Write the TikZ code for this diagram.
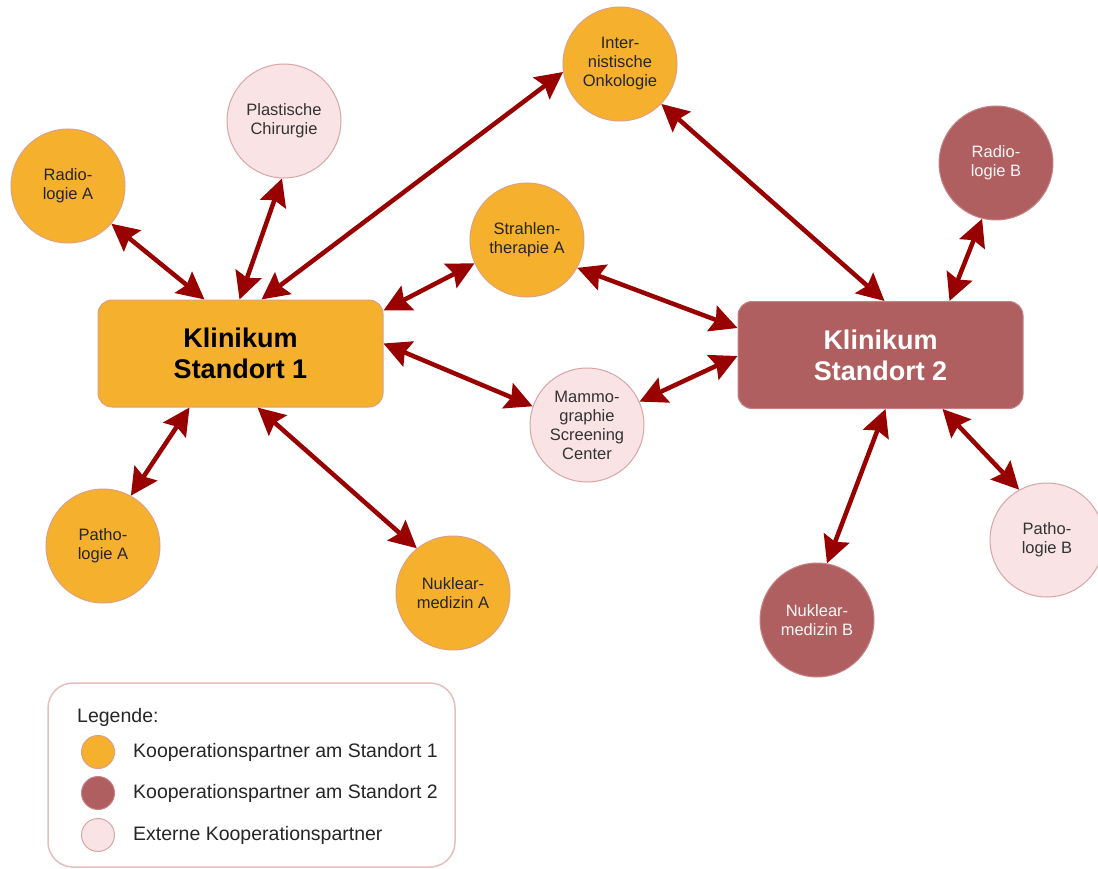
\documentclass[tikz,border=0pt]{standalone}
\usepackage{fontspec}
\setmainfont{Liberation Sans}
\usetikzlibrary{arrows.meta,calc}

\definecolor{siteone}{RGB}{245,176,46}
\definecolor{siteoneline}{RGB}{222,160,130}
\definecolor{sitetwo}{RGB}{176,95,97}
\definecolor{sitetwoline}{RGB}{200,130,132}
\definecolor{extern}{RGB}{249,227,228}
\definecolor{externline}{RGB}{216,165,168}
\definecolor{link}{RGB}{153,0,0}
\definecolor{legendline}{RGB}{230,190,190}

\tikzset{
  partner/.style={circle, minimum size=114pt, inner sep=0pt, align=center,
    line width=1pt, font=\fontsize{16.5}{19}\selectfont},
  partnerone/.style={partner, fill=siteone, draw=siteoneline, text=black!85},
  partnertwo/.style={partner, fill=sitetwo, draw=sitetwoline, text=white!95!sitetwo},
  partnerext/.style={partner, fill=extern, draw=externline, text=black!80},
  clinic/.style={rectangle, rounded corners=14pt, minimum width=285pt,
    minimum height=107pt, align=center, line width=1pt,
    font=\fontsize{27}{31}\selectfont\bfseries},
  coop/.style={line width=4.5pt, draw=link,
    {Stealth[length=27pt,width=27pt,inset=4pt]}-{Stealth[length=27pt,width=27pt,inset=4pt]}},
  keydot/.style={circle, minimum size=33pt, inner sep=0pt, line width=1pt},
  keytext/.style={anchor=west, inner sep=0pt, font=\fontsize{19.5}{23}\selectfont, text=black!85}
}

\begin{document}
\begin{tikzpicture}[x=1pt, y=-1pt]
\useasboundingbox[fill=white] (0,0) rectangle (1098,869);

% clinics
\node[clinic, fill=siteone, draw=siteoneline, text=black] (s1) at (240.5,353.5) {Klinikum\\Standort 1};
\node[clinic, fill=sitetwo, draw=sitetwoline, text=white] (s2) at (880.5,355) {Klinikum\\Standort 2};

% partners
\node[partnerone] (radA)   at (68,186)   {Radio-\\logie A};
\node[partnerext] (plast)  at (284,121)  {Plastische\\Chirurgie};
\node[partnerone] (onko)   at (620,64)   {Inter-\\nistische\\Onkologie};
\node[partnerone] (strA)   at (527,240)  {Strahlen-\\therapie A};
\node[partnertwo] (radB)   at (996,163)  {Radio-\\logie B};
\node[partnerext] (mammo)  at (587,425)  {Mammo-\\graphie\\Screening\\Center};
\node[partnerone] (pathA)  at (103,546)  {Patho-\\logie A};
\node[partnerone] (nukA)   at (453,593)  {Nuklear-\\medizin A};
\node[partnertwo] (nukB)   at (817,620)  {Nuklear-\\medizin B};
\node[partnerext] (pathB)  at (1047,540) {Patho-\\logie B};

% docking points on the clinic boxes
\coordinate (s1radA)  at ($(s1.north west)+(107,0)$);
\coordinate (s1plast) at ($(s1.north west)+(142,0)$);
\coordinate (s1onko)  at ($(s1.north west)+(164,0)$);
\coordinate (s1strA)  at ($(s1.north east)+(0,11)$);
\coordinate (s1mammo) at ($(s1.north east)+(0,44)$);
\coordinate (s1pathA) at ($(s1.south west)+(92,0)$);
\coordinate (s1nukA)  at ($(s1.south west)+(160,0)$);

\coordinate (s2onko)  at ($(s2.north west)+(147,0)$);
\coordinate (s2radB)  at ($(s2.north west)+(212,0)$);
\coordinate (s2strA)  at ($(s2.north west)+(0,27)$);
\coordinate (s2mammo) at ($(s2.north west)+(0,55)$);
\coordinate (s2nukB)  at ($(s2.south west)+(148,0)$);
\coordinate (s2pathB) at ($(s2.south west)+(205,0)$);

% cooperation links
\draw[coop] (radA.-41)   -- (s1radA);
\draw[coop] (plast.-92)  -- (s1plast);
\draw[coop] (onko.188)   -- (s1onko);
\draw[coop] (strA.204)   -- (s1strA);
\draw[coop] (mammo.161)  -- (s1mammo);
\draw[coop] (pathA.61)   -- (s1pathA);
\draw[coop] (nukA.129)   -- (s1nukA);

\draw[coop] (onko.-44)   -- (s2onko);
\draw[coop] (radB.-104)  -- (s2radB);
\draw[coop] (strA.-29)   -- (s2strA);
\draw[coop] (mammo.24)   -- (s2mammo);
\draw[coop] (nukB.80)    -- (s2nukB);
\draw[coop] (pathB.119)  -- (s2pathB);

% legend
\node[draw=legendline, line width=1.5pt, fill=white, rounded corners=25pt,
      minimum width=407pt, minimum height=184pt, inner sep=0pt] (legend) at (251.5,775) {};
\node[keytext] (legtitle) at (77,717) {Legende:};
\node[keydot, fill=siteone, draw=siteoneline] (k1) at (98,752) {};
\node[keydot, fill=sitetwo, draw=sitetwoline] (k2) at (98,793) {};
\node[keydot, fill=extern, draw=externline]   (k3) at (98,835) {};
\node[keytext] (t1) at (133,752) {Kooperationspartner am Standort 1};
\node[keytext] (t2) at (133,793) {Kooperationspartner am Standort 2};
\node[keytext] (t3) at (133,835) {Externe Kooperationspartner};
\end{tikzpicture}
\end{document}
